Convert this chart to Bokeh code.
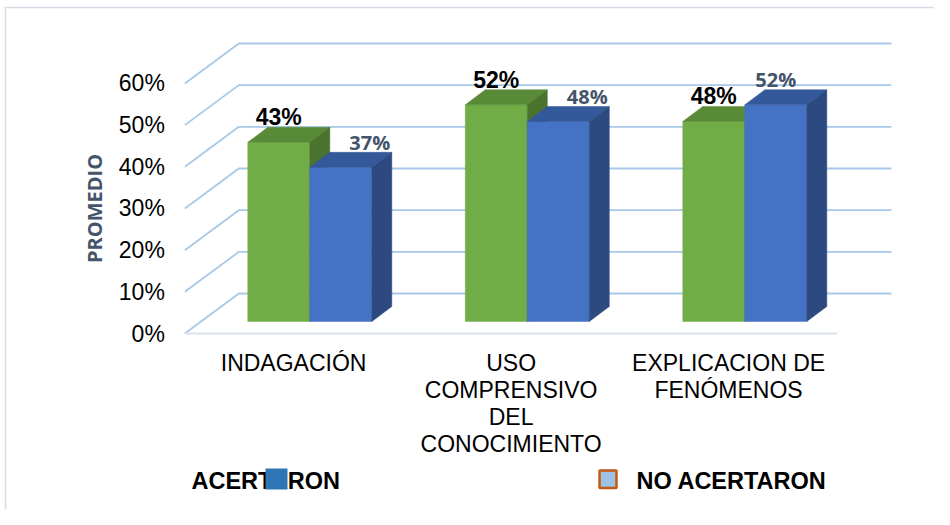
import math
from bokeh.plotting import figure
from bokeh.models import Range1d
from bokeh.core.properties import value
from bokeh.embed import file_html
from bokeh.resources import INLINE

# ---------------- data ----------------
categories = ["INDAGACIÓN", "USO\nCOMPRENSIVO\nDEL\nCONOCIMIENTO", "EXPLICACION DE\nFENÓMENOS"]
acertaron = [43, 52, 48]
no_acertaron = [37, 48, 52]
tick_values = [0, 10, 20, 30, 40, 50, 60]
tick_labels = ["0%", "10%", "20%", "30%", "40%", "50%", "60%"]
series_names = ["ACERTARON", "NO ACERTARON"]
y_title = "PROMEDIO"

# ---------------- layout ----------------
W, H = 934, 509
PX_X = 217.5      # pixels per category unit
PX_Y = 4.167      # pixels per percent
OFF = 0           # canvas offset inside the picture
X_START = -(309.3 - OFF) / PX_X + 0.5
Y_END = (321 - OFF) / PX_Y


def dx(px):
    return px / PX_X


def dy(px):
    return px / PX_Y


def sx(screen_x):
    return X_START + (screen_x - OFF) / PX_X


def sy(screen_y):
    return Y_END - (screen_y - OFF) / PX_Y


n = len(categories)
DDX, DDY = dx(54), dy(40)       # full depth of the 3D box
FRONT, BACK = -0.3, 0.7         # floor front / back wall relative to bars' front plane
BW = dx(62)                     # bar width
BDX, BDY = dx(20), dy(15)       # bar depth

GREEN = ("#70AD47", "#588A37", "#4A732E")
BLUE = ("#4472C4", "#34599A", "#2C4A7F")
GRID = "#A7C8E8"

p = figure(width=W, height=H, output_backend="svg", toolbar_location=None,
           x_range=Range1d(X_START, X_START + W / PX_X),
           y_range=Range1d(Y_END - H / PX_Y, Y_END),
           x_axis_location=None, y_axis_location=None, min_border=0)
p.grid.visible = False
p.outline_line_color = None
p.background_fill_color = "white"
p.border_fill_color = "white"

# chart-area frame (top and left edges)
p.line([sx(4), sx(960)], [sy(7), sy(7)], line_color="#D6DCE5", line_width=1.5)
p.line([sx(5), sx(5)], [sy(7), sy(540)], line_color="#D6DCE5", line_width=1.5)

# ---------------- 3D gridlines ----------------
gx, gy = [], []
for v in tick_values:
    gx.append([FRONT * DDX, BACK * DDX, n + BACK * DDX])
    gy.append([v + FRONT * DDY, v + BACK * DDY, v + BACK * DDY])
p.multi_line(gx, gy, line_color=GRID, line_width=1.8)
# floor front edge
p.line([FRONT * DDX, n + FRONT * DDX], [FRONT * DDY, FRONT * DDY], line_color="#D9E1EC", line_width=2)

# ---------------- 3D bars ----------------
pxs, pys, cols = [], [], []


def add_bar(x0, x1, v, colors):
    front, top, side = colors
    pxs.append([x0, x1, x1, x0]); pys.append([0, 0, v, v]); cols.append(front)
    pxs.append([x0, x1, x1 + BDX, x0 + BDX]); pys.append([v, v, v + BDY, v + BDY]); cols.append(top)
    pxs.append([x1, x1 + BDX, x1 + BDX, x1]); pys.append([0, BDY, v + BDY, v]); cols.append(side)


for i in range(n):
    c = i + 0.5
    add_bar(c - BW, c, acertaron[i], GREEN)
    add_bar(c, c + BW, no_acertaron[i], BLUE)

p.patches(pxs, pys, fill_color=cols, line_color=cols, line_width=0.5)

# ---------------- data labels ----------------
gl_x = [i + 0.5 - BW / 2 for i in range(n)]
gl_y = [v + BDY + dy(10) for v in acertaron]
p.text(gl_x, gl_y, text=[f"{v}%" for v in acertaron], text_align="center", text_baseline="middle",
       text_font=value("Liberation Sans"), text_font_style="bold", text_font_size="23px", text_color="black")

bl_x = [i + 0.5 + BW / 2 + (dx(29) if no_acertaron[i] < acertaron[i] else 0) for i in range(n)]
bl_y = [v + BDY + dy(10) for v in no_acertaron]
p.text(bl_x, bl_y, text=[f"{v}%" for v in no_acertaron], text_align="center", text_baseline="middle",
       text_font=value("Open Sans"), text_font_style="bold", text_font_size="20px", text_color="#44546A")

# ---------------- axis tick labels ----------------
p.text([FRONT * DDX - dx(20)] * len(tick_values), [v + FRONT * DDY for v in tick_values], text=tick_labels,
       text_align="right", text_baseline="middle", text_font=value("Liberation Sans"),
       text_font_size="23px", text_color="black")

# category labels (one text per line)
cx, cy, ct = [], [], []
for i, cat in enumerate(categories):
    for k, line in enumerate(cat.split("\n")):
        cx.append(i + 0.5 + FRONT * DDX)
        cy.append(FRONT * DDY - dy(29) - dy(27) * k)
        ct.append(line)
p.text(cx, cy, text=ct, text_align="center", text_baseline="middle", text_font=value("Liberation Sans"),
       text_font_size="23px", text_color="black")

# y axis title
p.text([FRONT * DDX - dx(90)], [30 + FRONT * DDY], text=[y_title], angle=math.pi / 2,
       text_align="center", text_baseline="middle", text_font=value("Open Sans"), text_font_style="bold",
       text_font_size="20px", text_color="#44546A")

# ---------------- legend ----------------
ly = sy(480.5)
p.text([sx(191), sx(636)], [ly, ly], text=series_names, text_align="left", text_baseline="middle",
       text_font=value("Liberation Sans"), text_font_style="bold", text_font_size="23.5px", text_color="black")
p.quad(left=[sx(265)], right=[sx(287)], top=[sy(468)], bottom=[sy(489)], fill_color="#2E75B6", line_color=None)
p.quad(left=[sx(599)], right=[sx(616)], top=[sy(470)], bottom=[sy(487.5)], fill_color="#9DC3E6",
       line_color="#C55A11", line_width=2.5)

open("out.html", "w").write(file_html(p, INLINE))
